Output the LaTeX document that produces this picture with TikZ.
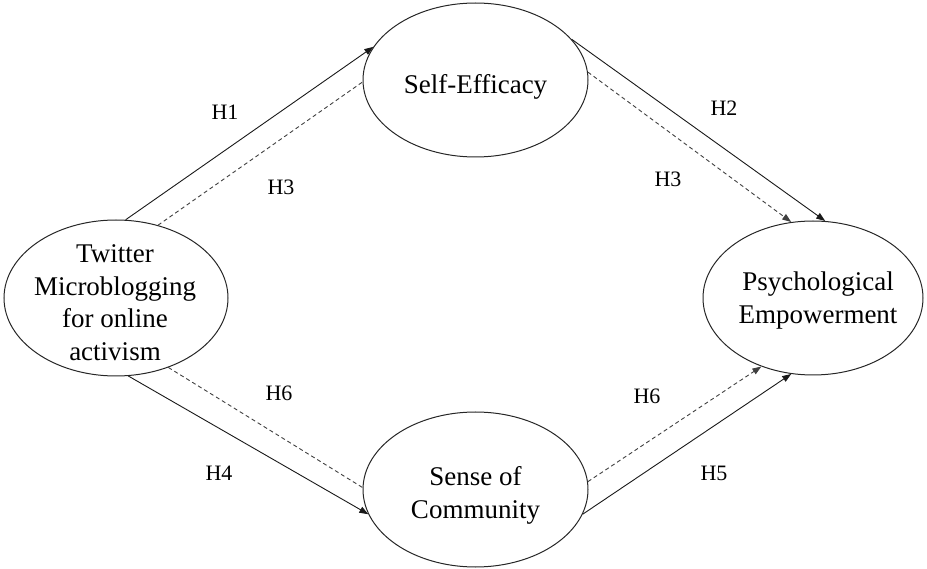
\documentclass[tikz,border=0pt]{standalone}
\usepackage{fontspec}
\setmainfont{Liberation Serif}
\usetikzlibrary{shapes.geometric,arrows.meta}
\begin{document}
\begin{tikzpicture}[x=1pt,y=-1pt,
  el/.style={ellipse,draw=black!85,line width=1pt,inner sep=0pt},
  txt/.style={align=center,font=\fontsize{27}{32.5}\selectfont,inner sep=0pt},
  hyp/.style={font=\fontsize{22}{26}\selectfont,inner sep=0pt},
  tip/.style={-{Triangle[length=9pt,width=6.5pt]}},
  solidline/.style={line width=0.9pt,black!90},
  dashline/.style={line width=0.9pt,dash pattern=on 4pt off 3pt,black!75}
]
\useasboundingbox (0,0) rectangle (927,569);

% ellipses
\node[el,minimum width=224pt,minimum height=156pt] (tw) at (116,298) {};
\node[el,minimum width=225pt,minimum height=154pt] (se) at (475.5,80) {};
\node[el,minimum width=225pt,minimum height=155pt] (sc) at (475.5,489.5) {};
\node[el,minimum width=220pt,minimum height=154pt] (pe) at (813,298) {};

% texts
\node[txt] (twt) at ([xshift=-1pt,yshift=-4.5pt]tw.center) {Twitter\\Microblogging\\for online\\activism};
\node[txt] (set) at ([yshift=-7pt]se.center) {Self-Efficacy};
\node[txt] (sct) at ([yshift=-6pt]sc.center) {Sense of\\Community};
\node[txt] (pet) at ([xshift=5pt,yshift=-2.5pt]pe.center) {Psychological\\Empowerment};

% connectors
\draw[solidline,tip] (tw.83.4) -- (se.162.5);
\draw[dashline] (tw.60.1) -- (se.181);
\draw[solidline,tip] (se.23.4) -- (pe.81.3);
\draw[dashline,tip] (se.4) -- (pe.106.1);
\draw[solidline,tip] (tw.-81.1) -- (sc.-167);
\draw[dashline] (tw.-53.4) -- (sc.179);
\draw[dashline,tip] (sc.4.8) -- (pe.-127.6);
\draw[solidline,tip] (sc.-13.1) -- (pe.-106.6);

% labels
\node[hyp] (h1) at (225,112) {H1};
\node[hyp] (h3a) at (281,187) {H3};
\node[hyp] (h2) at (724,108) {H2};
\node[hyp] (h3b) at (668,179) {H3};
\node[hyp] (h6a) at (279,393) {H6};
\node[hyp] (h4) at (219,473) {H4};
\node[hyp] (h6b) at (647,396) {H6};
\node[hyp] (h5) at (714,473) {H5};
\end{tikzpicture}
\end{document}
